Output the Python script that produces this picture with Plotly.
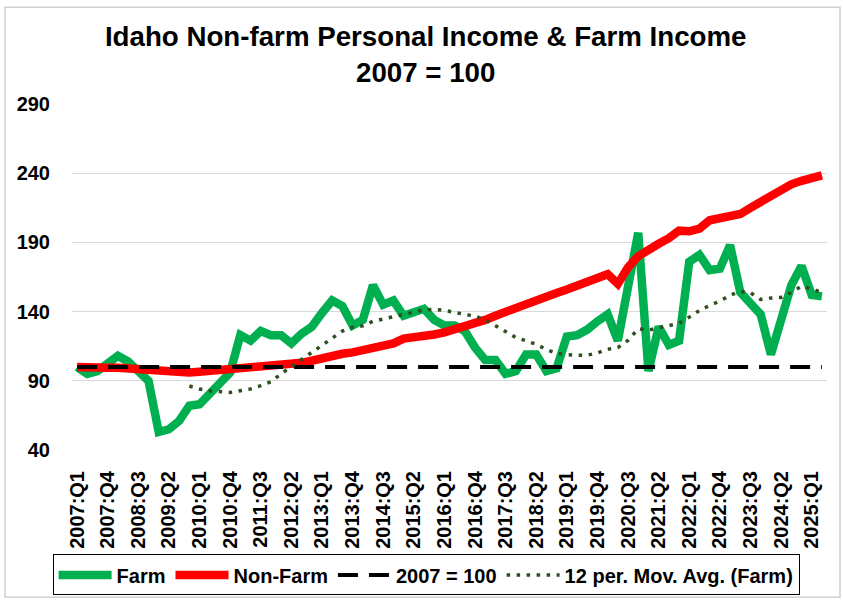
import plotly.graph_objects as go
import pandas as pd

# ---- data ----
quarters = [f"{y}:Q{q}" for y in range(2007, 2026) for q in range(1, 5)][:74]  # 2007:Q1 .. 2025:Q2

farm = [100, 95, 97, 103, 108, 104, 97, 90, 53, 55,
        61, 72, 73, 81, 89, 96, 123, 119, 126, 123,
        123, 117, 124, 129, 139, 148, 144, 130, 134, 159,
        145, 148, 137, 140, 142, 134, 130, 130, 126, 114,
        105, 105, 95, 97, 109, 109, 97, 99, 122, 123,
        127, 133, 138, 119, 158, 197, 97, 129, 116, 119,
        176, 181, 170, 171, 188, 154, 146, 138, 109, 135,
        159, 173, 152, 151]

non_farm = [100, 100.3, 100, 99.5, 99.5, 99, 98.5, 97.5, 96.5, 95.8,
            96, 96, 96.5, 97, 97.5, 98, 98.5, 99, 99.5, 100,
            101, 101.5, 103, 104.5, 106.5, 108.5, 109.5, 110.5, 112, 113.5,
            115, 117, 120.5, 121, 122, 123.5, 125, 127, 128.5, 131,
            134, 137, 140, 143, 145.5, 148, 151, 153.5, 156, 159,
            161, 164, 167, 160, 172, 180, 185, 189, 193, 198.5,
            198, 200, 206, 208, 209, 210.5, 215, 219, 224, 228.5,
            232, 234.5, 236.5, 238.5]

base_2007 = [100] * len(quarters)

# 12-period moving average trendline of Farm (as the chart's trendline defines it)
farm_ma = pd.Series(farm).rolling(12).mean().tolist()

y_ticks = [40, 90, 140, 190, 240, 290]
x_ticks = quarters[::3]

FONT = "Liberation Sans, Arial, sans-serif"

fig = go.Figure()
fig.add_trace(go.Scatter(x=quarters, y=farm, mode="lines", name="Farm",
                         line=dict(color="#00b050", width=8.5)))
fig.add_trace(go.Scatter(x=quarters, y=non_farm, mode="lines", name="Non-Farm",
                         line=dict(color="#ff0000", width=8.5)))
fig.add_trace(go.Scatter(x=quarters, y=base_2007, mode="lines", name="2007 = 100",
                         line=dict(color="#000000", width=4, dash="20px,11px")))
fig.add_trace(go.Scatter(x=quarters, y=farm_ma, mode="lines", name="12 per. Mov. Avg. (Farm)",
                         line=dict(color="#2f4f1f", width=3.5, dash="3.5px,6.5px")))

fig.update_layout(
    width=843, height=607, autosize=False,
    margin=dict(l=72, r=16, t=104, b=154),
    paper_bgcolor="white", plot_bgcolor="white",
    font=dict(family=FONT, color="#000000"),
    title=dict(text="Idaho Non-farm Personal Income & Farm Income<br>2007 = 100",
               x=0.505, xanchor="center", xref="container",
               y=1 - 46 / 607, yanchor="middle", yref="container",
               font=dict(size=27.7, family=FONT, weight="bold", color="#000000")),
    xaxis=dict(type="category", range=[-0.5, 73.5], tickmode="array",
               tickvals=x_ticks, ticktext=x_ticks, tickangle=-90,
               tickfont=dict(size=20, family=FONT, weight="bold"),
               showgrid=False, showline=False, zeroline=False,
               ticks="outside", ticklen=12, tickcolor="rgba(0,0,0,0)"),
    yaxis=dict(range=[40, 290], tickmode="array", tickvals=y_ticks,
               tickfont=dict(size=20, family=FONT, weight="bold"),
               showgrid=True, gridcolor="#d9d9d9", gridwidth=1,
               zeroline=False, showline=False,
               ticks="outside", ticklen=17, tickcolor="rgba(0,0,0,0)"),
    legend=dict(orientation="h", x=0.469, xanchor="center", y=-0.302, yanchor="top",
                bordercolor="#000000", borderwidth=1, bgcolor="white",
                font=dict(size=20, family=FONT, weight="bold"),
                itemwidth=53, tracegroupgap=0),
    shapes=[dict(type="rect", xref="paper", yref="paper",
                 x0=(5 - 72) / 755, x1=(840 - 72) / 755,
                 y0=(452.7 - 601) / 348.4, y1=(452.7 - 7) / 348.4,
                 line=dict(color="#d0d0d0", width=1.5), fillcolor="rgba(0,0,0,0)",
                 layer="below")],
)

fig.write_html("out.html", config={"displayModeBar": False},
               post_script="document.body.style.margin='0';document.body.style.overflow='hidden';")
